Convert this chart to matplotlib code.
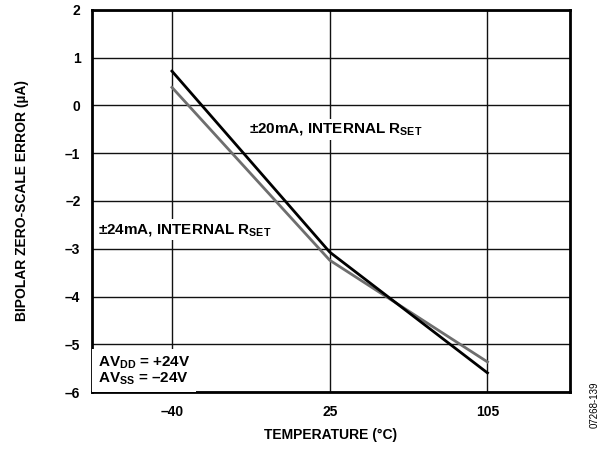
import matplotlib.pyplot as plt

plt.rcParams["font.family"] = ["Liberation Sans", "DejaVu Sans"]
plt.rcParams["font.weight"] = "bold"
plt.rcParams["mathtext.fontset"] = "custom"
plt.rcParams["mathtext.rm"] = "Liberation Sans:bold"
plt.rcParams["mathtext.default"] = "rm"

temps = ["–40", "25", "105"]
err_20ma = [0.72, -3.07, -5.6]
err_24ma = [0.38, -3.24, -5.37]
y_ticks = [-6, -5, -4, -3, -2, -1, 0, 1, 2]
y_labels = ["–6", "–5", "–4", "–3", "–2", "–1", "0", "1", "2"]

fig = plt.figure(figsize=(6.07, 4.5), dpi=100)
ax = fig.add_axes([91.5 / 607, 1 - 392 / 450, 478 / 607, 382 / 450])

x = range(len(temps))
ax.plot(x, err_24ma, color="#6e6e6e", lw=2.0, zorder=3)
ax.plot(x, err_20ma, color="black", lw=2.0, zorder=4)

ax.set_xlim(-0.51, 2.52)
ax.set_ylim(-6, 2)
ax.set_xticks(list(x))
ax.set_xticklabels(temps)
ax.set_yticks(y_ticks)
ax.set_yticklabels(y_labels)
ax.tick_params(axis="x", length=0, labelsize=10, pad=9)
ax.tick_params(axis="y", length=0, labelsize=10, pad=8)
for lbl in ax.get_xticklabels() + ax.get_yticklabels():
    lbl.set_fontweight("bold")
ax.grid(True, color="#111111", lw=1.0, zorder=1)
for s in ax.spines.values():
    s.set_linewidth(2.0)

ax.set_xlabel("TEMPERATURE (°C)", fontsize=10, fontweight="bold", labelpad=7)
ax.set_ylabel("BIPOLAR ZERO-SCALE ERROR (µA)", fontsize=10, fontweight="bold", labelpad=26)

box = dict(facecolor="white", edgecolor="none", pad=2)
ax.text(1.04, -0.5, r"±20mA, INTERNAL R$_{SET}$", fontsize=11, fontweight="bold",
        ha="center", va="center", bbox=box, zorder=5)
ax.text(-0.47, -2.6, r"±24mA, INTERNAL R$_{SET}$", fontsize=11, fontweight="bold",
        ha="left", va="center", bbox=box, zorder=5)
ax.text(-0.47, -5.55, "AV$_{DD}$ = +24V\nAV$_{SS}$ = –24V", fontsize=11,
        fontweight="bold", ha="left", va="center", linespacing=0.95,
        bbox=dict(facecolor="white", edgecolor="none", pad=4), zorder=5)

fig.text(595 / 607, 1 - 405 / 450, "07268-139", rotation=90, fontsize=7,
         fontweight="normal", ha="center", va="center")

fig.savefig("out.png", dpi=100)
